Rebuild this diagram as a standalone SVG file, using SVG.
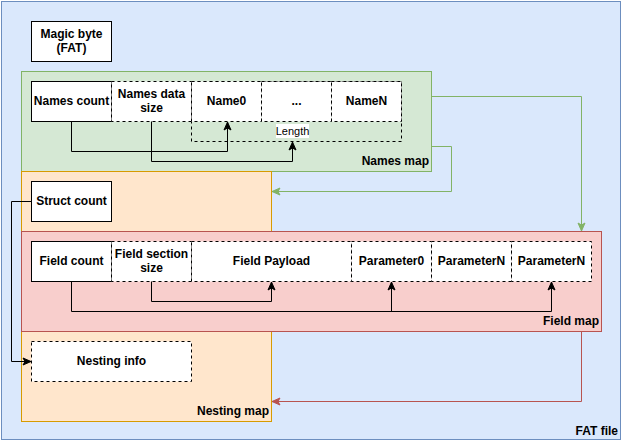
<svg xmlns="http://www.w3.org/2000/svg" width="624" height="444" viewBox="0 0 624 444">
<style>
text{font-family:"Liberation Sans",Arial,sans-serif;font-size:12px;font-weight:bold;fill:#000}
.c{text-anchor:middle}
.r{text-anchor:end}
.box{fill:#fff;stroke:#000;stroke-width:1}
.dash{fill:#fff;stroke:#000;stroke-width:1;stroke-dasharray:3 3}
.e{fill:none;stroke:#000;stroke-width:1}
.g{fill:none;stroke:#82b366;stroke-width:1}
.rd{fill:none;stroke:#b85450;stroke-width:1}
</style>
<defs>
<marker id="ak" markerWidth="10" markerHeight="10" refX="9" refY="5" orient="auto" markerUnits="userSpaceOnUse"><path d="M1,1.5 L9,5 L1,8.5 L3,5 Z" fill="#000" stroke="#000"/></marker>
<marker id="ag" markerWidth="10" markerHeight="10" refX="9" refY="5" orient="auto" markerUnits="userSpaceOnUse"><path d="M1,1.5 L9,5 L1,8.5 L3,5 Z" fill="#82b366" stroke="#82b366"/></marker>
<marker id="ar" markerWidth="10" markerHeight="10" refX="9" refY="5" orient="auto" markerUnits="userSpaceOnUse"><path d="M1,1.5 L9,5 L1,8.5 L3,5 Z" fill="#b85450" stroke="#b85450"/></marker>
</defs>
<g id="fat-file">
<rect x="1.5" y="1.5" width="619" height="438" fill="#dae8fc" stroke="#6c8ebf"/>
<text class="r" x="618" y="435">FAT file</text>
</g>
<g id="magic-byte">
<rect class="box" x="31.5" y="21.5" width="80" height="40"/>
<text class="c" x="71.5" y="38">Magic byte</text>
<text class="c" x="71.5" y="52">(FAT)</text>
</g>
<g id="names-map">
<rect x="21.5" y="71.5" width="410" height="100" fill="#d5e8d4" stroke="#82b366"/>
<text class="r" x="429" y="165">Names map</text>
</g>
<g id="nesting-map">
<rect x="21.5" y="171.5" width="250" height="250" fill="#ffe6cc" stroke="#d79b00"/>
<text class="r" x="269" y="415">Nesting map</text>
</g>
<g id="field-map">
<rect x="21.5" y="231.5" width="580" height="100" fill="#f8cecc" stroke="#b85450"/>
<text class="r" x="599" y="325">Field map</text>
</g>
<g id="length">
<rect class="dash" x="191.5" y="81.5" width="210" height="60" fill="none" style="fill:none"/>
</g>
<g id="names-count">
<rect class="box" x="31.5" y="81.5" width="80" height="40"/>
<text class="c" x="71.5" y="105">Names count</text>
</g>
<g id="names-data-size">
<rect class="dash" x="111.5" y="81.5" width="80" height="40"/>
<text class="c" x="151.5" y="98">Names data</text>
<text class="c" x="151.5" y="112">size</text>
</g>
<g id="name0">
<rect class="dash" x="191.5" y="81.5" width="70" height="40"/>
<text class="c" x="226.5" y="105">Name0</text>
</g>
<g id="ellipsis">
<rect class="dash" x="261.5" y="81.5" width="70" height="40"/>
<text class="c" x="296.5" y="105">...</text>
</g>
<g id="nameN">
<rect class="dash" x="331.5" y="81.5" width="70" height="40"/>
<text class="c" x="366.5" y="105">NameN</text>
</g>
<g id="struct-count">
<rect class="box" x="31.5" y="181.5" width="80" height="40"/>
<text class="c" x="71.5" y="205">Struct count</text>
</g>
<g id="field-count">
<rect class="box" x="31.5" y="241.5" width="80" height="40"/>
<text class="c" x="71.5" y="265">Field count</text>
</g>
<g id="field-section-size">
<rect class="dash" x="111.5" y="241.5" width="80" height="40"/>
<text class="c" x="151.5" y="258">Field section</text>
<text class="c" x="151.5" y="272">size</text>
</g>
<g id="field-payload">
<rect class="dash" x="191.5" y="241.5" width="160" height="40"/>
<text class="c" x="271.5" y="265">Field Payload</text>
</g>
<g id="parameter0">
<rect class="dash" x="351.5" y="241.5" width="80" height="40"/>
<text class="c" x="391.5" y="265">Parameter0</text>
</g>
<g id="parameterN1">
<rect class="dash" x="431.5" y="241.5" width="80" height="40"/>
<text class="c" x="471.5" y="265">ParameterN</text>
</g>
<g id="parameterN2">
<rect class="dash" x="511.5" y="241.5" width="80" height="40"/>
<text class="c" x="551.5" y="265">ParameterN</text>
</g>
<g id="nesting-info">
<rect class="dash" x="31.5" y="341.5" width="160" height="40"/>
<text class="c" x="111.5" y="365">Nesting info</text>
</g>
<g id="connectors">
<path class="e" d="M71.5,121.5 V151.5 H227.5 V122" marker-end="url(#ak)"/>
<path class="e" d="M151.5,121.5 V161.5 H292.5 V142" marker-end="url(#ak)"/>
<rect x="276" y="124" width="33" height="14" fill="#fff"/>
<text class="c" x="292.5" y="135" style="font-size:11px;font-weight:normal">Length</text>
<path class="e" d="M71.5,281.5 V311.5 H551.5 V282" marker-end="url(#ak)"/>
<path class="e" d="M391.5,311.5 V282" marker-end="url(#ak)"/>
<path class="e" d="M151.5,281.5 V301.5 H271.5 V282" marker-end="url(#ak)"/>
<path class="e" d="M31.5,201.5 H11.5 V361.5 H31" marker-end="url(#ak)"/>
<path class="g" d="M431.5,96.5 H581.5 V231" marker-end="url(#ag)"/>
<path class="g" d="M431.5,146.5 H451.5 V191.5 H272" marker-end="url(#ag)"/>
<path class="rd" d="M581.5,331.5 V401.5 H272" marker-end="url(#ar)"/>
</g>
</svg>
